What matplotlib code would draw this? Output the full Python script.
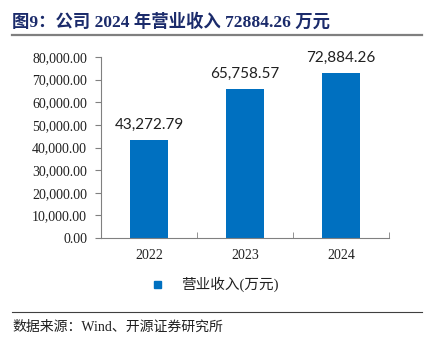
import matplotlib
matplotlib.use("Agg")
import matplotlib.pyplot as plt
from matplotlib.ticker import FuncFormatter, FixedLocator
from matplotlib.lines import Line2D

years = ["2022", "2023", "2024"]
revenue = [43272.79, 65758.57, 72884.26]
y_ticks = [0, 10000, 20000, 30000, 40000, 50000, 60000, 70000, 80000]
series_name = "营业收入(万元)"
title = "图9：公司 2024 年营业收入 72884.26 万元"
source = "数据来源：Wind、开源证券研究所"

W, H = 430, 346
fig = plt.figure(figsize=(W / 100, H / 100), dpi=100)
fig.patch.set_facecolor("white")

serif = ["Liberation Serif", "Noto Sans CJK SC"]
navy = "#1B2B6B"
bar_color = "#0070C0"

# title and rules
fig.text(12 / W, 1 - 22 / H, title,
         family=serif, fontsize=12.5,
         fontweight="bold", color=navy, va="center", ha="left")
fig.add_artist(Line2D([12 / W, 422 / W], [1 - 35 / H, 1 - 35 / H],
                      color="#7F7F7F", lw=1.6, transform=fig.transFigure))
fig.add_artist(Line2D([12 / W, 422 / W], [1 - 312 / H, 1 - 312 / H],
                      color="#404040", lw=0.8, transform=fig.transFigure))
fig.text(12 / W, 1 - 327 / H, source, family=serif, fontsize=10,
         color="#202020", va="center", ha="left")

ax = fig.add_axes([101 / W, 1 - 238 / H, (389 - 101) / W, (238 - 57) / H])
x = list(range(len(years)))
bars = ax.bar(x, revenue, width=0.4, color=bar_color, zorder=2)

ax.set_xlim(-0.5, 2.5)
ax.set_ylim(0, 80000)
ax.yaxis.set_major_locator(FixedLocator(y_ticks))
ax.yaxis.set_major_formatter(FuncFormatter(lambda v, p: f"{v:,.2f}"))
ax.set_xticks(x)
ax.set_xticklabels(years)
ax.set_xticks([0.5, 1.5, 2.5], minor=True)
ax.tick_params(axis="x", which="major", length=0, pad=8)
ax.tick_params(axis="x", which="minor", length=4, direction="in", color="#808080")
ax.tick_params(axis="y", length=4, direction="out", color="#808080", pad=6)
for lbl in ax.get_xticklabels() + ax.get_yticklabels():
    lbl.set_family(serif)
    lbl.set_fontsize(10)
    lbl.set_color("#202020")

for s in ["top", "right"]:
    ax.spines[s].set_visible(False)
ax.spines["left"].set_color("#808080")
ax.spines["bottom"].set_color("#808080")

for xi, v in zip(x, revenue):
    ax.annotate(f"{v:,.2f}", (xi, v), xytext=(0, 6), textcoords="offset points",
                ha="center", va="bottom", family=["Lato", "DejaVu Sans"],
                fontsize=11, color="#202020")

# legend
fig.add_artist(plt.Rectangle((154 / W, 1 - 288 / H), 7 / W, 7 / H,
                             color=bar_color, transform=fig.transFigure))
fig.text(181 / W, 1 - 284 / H, series_name, family=serif, fontsize=10.5,
         color="#202020", va="center", ha="left")

fig.savefig("out.png", dpi=100, facecolor="white")
